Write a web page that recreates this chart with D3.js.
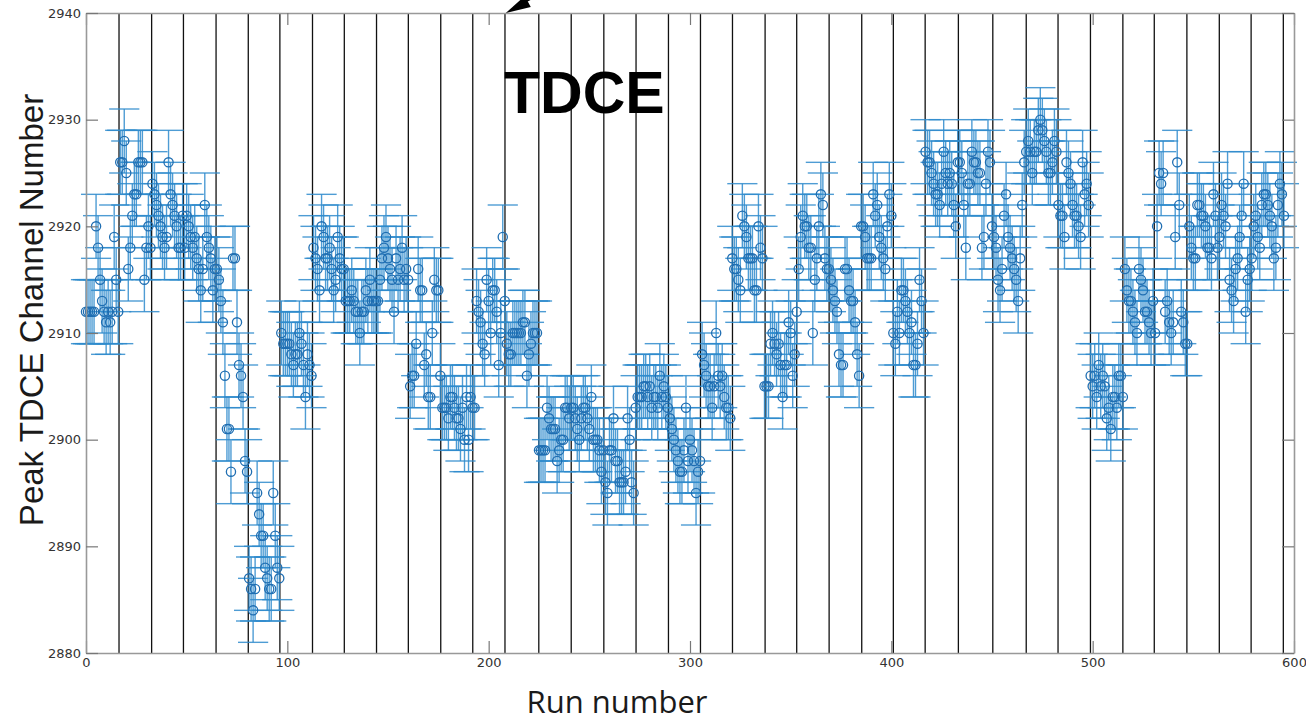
<!DOCTYPE html>
<html>
<head>
<meta charset="utf-8">
<script src="https://cdn.jsdelivr.net/npm/d3@7"></script>
<style>
  body { margin: 0; background: #fff; }
  svg { display: block; }
</style>
</head>
<body>
<svg id="chart" width="1306" height="724"></svg>
<script>
// Peak TDCE channel per run, one value per run starting at run 0.
// Each line is one block of runs between two vertical separators.
const firstRun = 0;
const peakRuns1 = [
  2912,2912,2912,2912,2912,2920,2918,2915,2913,2912,2911,2912,2911,2912,2919,2915,2912,
  2926,2926,2928,2925,2916,2918,2921,2923,2923,2926,2926,2926,2915,2918,2920,2918,
  2924,2923,2922,2921,2920,2919,2918,2919,2926,2923,2922,2921,2920,2918,2918,2921,
  2918,2921,2920,2919,2918,2919,2917,2916,2914,2916,2922,2919,2918,2917,2914,2916,
  2916,2915,2913,2911,2906,2901,2901,2897,2917,2917,2911,2907,2906,2904,2898,2897,
  2887,2886,2884,2886,2895,2893,2891,2891,2888,2887,2886,2886,2895,2891,2888,2887
];
const peakRuns2 = [
  2910,2909,2909,2909,2909,2908,2907,2908,2908,2910,2909,2907,2904,2908,2907,2906,
  2918,2917,2916,2914,2920,2919,2917,2917,2918,2916,2914,2915,2919,2917,2916,2916,
  2913,2913,2913,2914,2913,2912,2912,2910,2912,2912,2914,2913,2915,2913,2913,2913,
  2913,2915,2917,2918,2919,2917,2916,2915,2912,2917,2915,2916,2918,2915,2916,2915,
  2905,2906,2906,2909,2916,2914,2914,2907,2908,2904,2904,2910,2915,2914,2914,2906,
  2903,2903,2903,2902,2904,2904,2903,2902,2902,2901,2903,2900,2904,2900,2904,2903
];
const peakRuns3 = [
  2903,2913,2912,2911,2909,2908,2915,2913,2910,2914,2914,2912,2907,2910,2919,2913,
  2909,2908,2908,2910,2910,2910,2910,2910,2911,2911,2906,2908,2909,2910,2910,2910,
  2899,2899,2899,2899,2903,2902,2901,2901,2901,2898,2899,2900,2900,2903,2903,2902,
  2903,2903,2902,2901,2900,2902,2903,2903,2902,2901,2904,2900,2900,2900,2899,2897,
  2899,2896,2895,2899,2899,2902,2898,2898,2896,2896,2896,2897,2902,2900,2896,2895,
  2903,2904,2904,2904,2905,2905,2904,2905,2903,2904,2904,2903,2906,2904,2905,2904
];
const peakRuns4 = [
  2903,2902,2901,2900,2899,2898,2897,2897,2899,2903,2898,2900,2899,2898,2895,2897,
  2898,2908,2907,2906,2905,2905,2903,2905,2910,2906,2905,2906,2904,2903,2903,2902,
  2917,2916,2916,2915,2914,2921,2920,2919,2917,2917,2917,2914,2914,2920,2918,2917,
  2905,2905,2905,2909,2910,2909,2908,2909,2907,2904,2907,2907,2911,2910,2906,2908,
  2912,2916,2919,2921,2920,2920,2918,2918,2910,2915,2917,2920,2923,2922,2917,2916,
  2916,2915,2914,2913,2912,2908,2907,2907,2916,2916,2914,2913,2913,2911,2908,2906
];
const peakRuns5 = [
  2920,2920,2919,2917,2917,2917,2923,2921,2922,2919,2918,2917,2916,2920,2923,2921,
  2910,2909,2912,2910,2914,2914,2913,2912,2910,2911,2907,2907,2909,2915,2913,2910,
  2927,2926,2926,2925,2924,2923,2923,2922,2924,2927,2925,2924,2925,2924,2922,2920,
  2926,2926,2925,2922,2918,2924,2924,2927,2926,2926,2925,2925,2918,2919,2924,2927,2926,
  2920,2919,2918,2915,2914,2916,2921,2923,2919,2918,2917,2916,2915,2913,2917,2922,2926,
  2927,2928,2927,2925,2927,2927,2929,2930,2929,2928,2927,2925,2925,2926,2928,2927
];
const peakRuns6 = [
  2922,2921,2921,2919,2926,2925,2924,2922,2921,2921,2920,2919,2926,2923,2924,2922,
  2906,2905,2906,2904,2907,2905,2906,2905,2902,2903,2901,2904,2904,2903,2906,2906,2904,
  2916,2914,2913,2913,2912,2911,2910,2916,2915,2914,2912,2912,2911,2910,2913,2910,
  2920,2925,2924,2925,2912,2913,2911,2910,2911,2919,2926,2922,2912,2911,2909,2909,
  2920,2918,2917,2917,2922,2922,2921,2921,2920,2918,2918,2917,2923,2921,2918,2919,
  2922,2921,2920,2924,2915,2914,2913,2916,2917,2919,2921,2924,2912,2915,2916,2917,
  2920,2921,2919,2918,2922,2923,2923,2922,2921,2920,2917,2918,2922,2924,2923,2921
];
const peakError = 3;      // channels, up and down
const runHalfWidth = 7.5; // runs, half width of the horizontal bars

// run numbers where a new block of runs starts
const blockEdges = [16.4, 32.6, 48.4, 64.6, 80.6, 96.3, 112.5, 128.3, 144.3, 160.1,
  176.2, 192.1, 208.1, 224.9, 241.0, 257.2, 273.2, 289.3, 305.2, 321.1, 337.3, 353.0,
  369.1, 385.3, 401.0, 416.8, 433.3, 450.4, 467.0, 482.8, 498.9, 515.0, 530.6, 546.8,
  562.9, 578.7, 594.7];

const xTicks = [0, 100, 200, 300, 400, 500, 600];
const yTicks = [2880, 2890, 2900, 2910, 2920, 2930, 2940];

const peaks = [].concat(peakRuns1, peakRuns2, peakRuns3, peakRuns4, peakRuns5, peakRuns6);
const points = peaks.map((v, i) => ({ run: firstRun + i, peak: v }));

const svg = d3.select('#chart');
const x = d3.scaleLinear().domain([0, 600]).range([86, 1294]);
const y = d3.scaleLinear().domain([2880, 2940]).range([653, 13]);

// block separators
svg.append('g')
  .selectAll('line')
  .data(blockEdges)
  .join('line')
  .attr('x1', d => x(d)).attr('x2', d => x(d))
  .attr('y1', y(2940)).attr('y2', y(2880))
  .attr('stroke', '#111')
  .attr('stroke-width', 1.3);

// error bars
const bars = svg.append('g')
  .attr('stroke', '#2f8bcc')
  .attr('stroke-width', 1.4)
  .attr('stroke-opacity', 0.85);

bars.selectAll('line.v')
  .data(points)
  .join('line')
  .attr('class', 'v')
  .attr('x1', d => x(d.run)).attr('x2', d => x(d.run))
  .attr('y1', d => y(d.peak - peakError)).attr('y2', d => y(d.peak + peakError));

bars.selectAll('line.lo')
  .data(points)
  .join('line')
  .attr('class', 'lo')
  .attr('x1', d => x(d.run - runHalfWidth)).attr('x2', d => x(d.run + runHalfWidth))
  .attr('y1', d => y(d.peak - peakError)).attr('y2', d => y(d.peak - peakError));

bars.selectAll('line.hi')
  .data(points)
  .join('line')
  .attr('class', 'hi')
  .attr('x1', d => x(d.run - runHalfWidth)).attr('x2', d => x(d.run + runHalfWidth))
  .attr('y1', d => y(d.peak + peakError)).attr('y2', d => y(d.peak + peakError));

// markers
svg.append('g')
  .selectAll('circle')
  .data(points)
  .join('circle')
  .attr('cx', d => x(d.run))
  .attr('cy', d => y(d.peak))
  .attr('r', 4.6)
  .attr('fill', 'none')
  .attr('stroke', '#1f6eb2')
  .attr('stroke-width', 1.3);

// frame and ticks
function styleAxis(g) {
  g.select('.domain').attr('stroke', '#999').attr('stroke-width', 1.6);
  g.selectAll('.tick line').attr('stroke', '#777').attr('stroke-width', 1.2);
  g.selectAll('.tick text')
    .attr('fill', '#333')
    .style('font-family', '"DejaVu Sans", sans-serif')
    .style('font-size', '13px');
}

svg.append('g')
  .attr('transform', `translate(0,${y(2880)})`)
  .call(d3.axisBottom(x).tickValues(xTicks).tickSizeInner(-12).tickSizeOuter(0).tickPadding(5))
  .call(styleAxis);

svg.append('g')
  .attr('transform', `translate(0,${y(2940)})`)
  .call(d3.axisTop(x).tickValues(xTicks).tickSizeInner(-12).tickSizeOuter(0).tickFormat(''))
  .call(styleAxis);

svg.append('g')
  .attr('transform', `translate(${x(0)},0)`)
  .call(d3.axisLeft(y).tickValues(yTicks).tickFormat(d3.format('d'))
    .tickSizeInner(-12).tickSizeOuter(0).tickPadding(5))
  .call(styleAxis);

svg.append('g')
  .attr('transform', `translate(${x(600)},0)`)
  .call(d3.axisRight(y).tickValues(yTicks).tickSizeInner(-12).tickSizeOuter(0).tickFormat(''))
  .call(styleAxis);

// annotation arrow pointing at the top axis
const tipX = x(208.5), tipY = y(2940);
svg.append('line')
  .attr('x1', tipX + 12).attr('y1', tipY - 7)
  .attr('x2', tipX + 60).attr('y2', tipY - 34)
  .attr('stroke', '#000').attr('stroke-width', 2);
svg.append('path')
  .attr('d', `M${tipX},${tipY} L${tipX + 19},${tipY - 17} L${tipX + 25},${tipY - 6} Z`)
  .attr('fill', '#000');

svg.append('text')
  .attr('x', 504).attr('y', 113)
  .style('font-family', '"Liberation Sans", Arial, sans-serif')
  .style('font-weight', 'bold')
  .style('font-size', '59px')
  .attr('fill', '#000')
  .text('TDCE');

// axis titles
svg.append('text')
  .attr('transform', 'translate(43,310) rotate(-90)')
  .attr('text-anchor', 'middle')
  .style('font-family', '"Liberation Sans", Arial, sans-serif')
  .style('font-size', '33px')
  .attr('fill', '#1a1a1a')
  .text('Peak TDCE Channel Number');

svg.append('text')
  .attr('x', 617).attr('y', 713)
  .attr('text-anchor', 'middle')
  .style('font-family', '"Open Sans", sans-serif')
  .style('font-size', '31px')
  .attr('fill', '#1a1a1a')
  .text('Run number');
</script>
</body>
</html>
